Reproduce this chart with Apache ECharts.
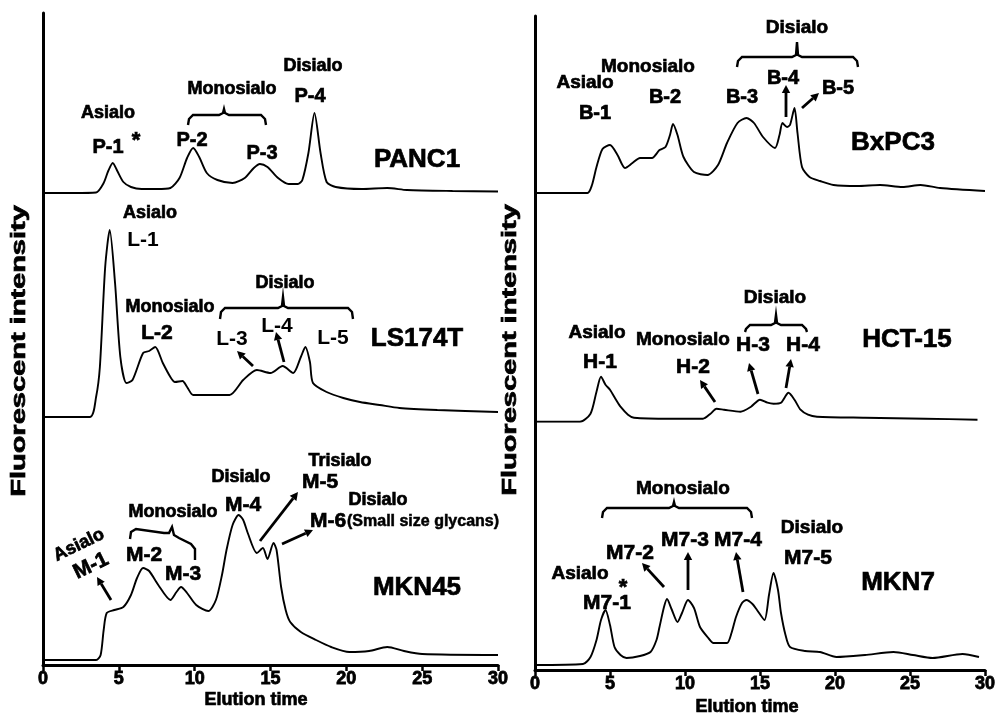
<!DOCTYPE html>
<html><head><meta charset="utf-8">
<script src="https://cdn.jsdelivr.net/npm/echarts@6/dist/echarts.min.js"></script>
<style>html,body{margin:0;padding:0;background:#fff}#c{width:999px;height:715px}</style>
</head><body><div id="c"></div>
<script>
// ---- data: [elution time, relative fluorescence above each trace's baseline] ----
const xTicks = [0, 5, 10, 15, 20, 25, 30];
const panc1 = [[0,0],[2,0],[3.5,0.5],[4.0,10],[4.3,22],[4.6,30],[4.9,22],[5.3,11],[5.8,6],[6.5,4],[7.5,4],[8.4,5],[9.0,15],[9.5,35],[9.9,45],[10.3,36],[10.8,20],[11.5,13],[12.5,10],[13.3,15],[13.9,25],[14.3,29],[14.8,26],[15.5,15],[16.2,9],[16.8,9],[17.1,13],[17.5,40],[17.9,80],[18.3,40],[18.7,11],[19.3,6],[21,4],[22.7,5],[24,3],[27,2],[30,1.5]];
const ls174t = [[0,0],[3.1,0],[3.5,20],[3.75,50],[4.1,150],[4.4,187],[4.75,134],[5.1,60],[5.5,34],[5.9,37],[6.6,64],[7.0,66],[7.4,70],[7.9,54],[8.4,40],[8.7,35],[9.2,36],[9.5,30],[9.9,22],[11,22],[12.3,22],[13.2,37],[14.1,47],[15.0,44],[15.8,51],[16.5,44],[17.0,60],[17.3,70],[17.6,55],[17.8,34],[18.7,25],[19.8,19],[20.9,15],[22.2,12],[23.5,9],[26,7],[30,5]];
const mkn45 = [[0,0],[3.5,0],[3.8,5],[4.0,30],[4.2,47],[4.7,50],[5.3,53],[5.8,65],[6.2,82],[6.6,92],[7.0,89],[7.6,75],[8.4,60],[8.8,68],[9.1,73],[9.5,67],[10.1,55],[10.9,49],[11.4,60],[11.8,85],[12.1,110],[12.5,135],[12.9,145],[13.2,140],[13.5,127],[14.1,107],[14.5,112],[14.8,101],[15.2,117],[15.4,110],[15.7,73],[16.0,50],[16.3,38],[17,28],[18,20],[19,13],[20.2,8],[21.5,9],[22.7,13],[23.8,9],[25,6],[30,5]];
const bxpc3 = [[0,0],[3.5,0],[3.8,8],[4.1,26],[4.5,44],[5.0,48],[5.5,38],[6.0,25],[6.5,30],[7.0,35],[7.8,35],[8.3,43],[8.7,46],[9.0,58],[9.2,69],[9.5,58],[9.9,36],[10.6,21],[11.5,18],[12.2,28],[12.8,50],[13.5,70],[14.1,75],[14.6,70],[15.2,56],[16.0,45],[16.3,58],[16.5,70],[16.8,66],[17.0,68],[17.3,85],[17.5,60],[17.8,26],[18.3,16],[19.0,12],[19.9,8],[21.5,7],[23,8],[24.5,6],[25.7,8],[27,5],[30,2]];
const hct15 = [[0,0],[3,0],[3.7,8],[4.1,30],[4.4,45],[4.7,37],[5.0,32],[5.4,22],[5.7,15],[6.2,7],[6.6,4],[9,3],[11.2,3],[11.7,8],[12.1,13],[12.6,12],[13.7,10],[14.4,15],[15.0,22],[15.5,19],[15.9,18],[16.4,19],[16.9,29],[17.3,22],[17.7,12],[18.2,7],[18.8,5],[22,4],[26,3],[29.5,2]];
const mkn7 = [[0,0],[3.2,1],[3.7,8],[4.1,25],[4.4,45],[4.7,55],[5.0,40],[5.3,18],[5.7,10],[6.1,7],[7.0,9],[7.7,13],[8.1,25],[8.3,38],[8.6,58],[8.8,66],[9.1,56],[9.5,43],[9.8,52],[10.2,65],[10.6,57],[11.0,38],[11.5,28],[11.9,22],[12.8,22],[13.1,32],[13.4,48],[13.8,62],[14.1,65],[14.5,61],[14.8,55],[15.3,45],[15.6,70],[15.9,92],[16.2,75],[16.4,52],[16.7,30],[17.0,18],[18,14],[19.0,13],[20.1,8],[22,10],[23.9,13],[25.2,10],[26.5,7],[28.5,11],[29.6,8]];
const cellLines = ['PANC1','LS174T','MKN45','BxPC3','HCT-15','MKN7'];
const traces = [panc1, ls174t, mkn45, bxpc3, hct15, mkn7];

// ---- layout ----
const FONT = '"Liberation Sans", Arial, sans-serif';
const panels = [{left:43, width:455, top:13, bottom:665}, {left:535, width:450, top:16, bottom:670}];
const baselines = [193, 417, 660, 193, 421.7, 665];
const TH = 190;

const grids = [], xAxes = [], yAxes = [], series = [];
panels.forEach((p, i) => {
  grids.push({left:p.left, top:p.top, width:p.width, height:p.bottom - p.top});
  xAxes.push({gridIndex:i, type:'value', min:0, max:30, interval:5,
    axisLine:{show:true, onZero:false, lineStyle:{color:'#000', width:3}},
    axisTick:{show:true, inside:false, length:6, lineStyle:{color:'#000', width:2.5}},
    axisLabel:{color:'#000', fontFamily:FONT, fontWeight:'bold', fontSize:18, margin:5,
      textBorderColor:'#000', textBorderWidth:0.8,
      formatter: v => xTicks.includes(v) ? String(v) : ''},
    splitLine:{show:false}});
  yAxes.push({gridIndex:i, type:'value', min:0, max:1,
    axisLine:{show:true, onZero:false, lineStyle:{color:'#000', width:3}},
    axisTick:{show:false}, axisLabel:{show:false}, splitLine:{show:false}});
});
traces.forEach((d, k) => {
  const p = panels[k < 3 ? 0 : 1];
  const gi = grids.length;
  grids.push({left:p.left, width:p.width, top:baselines[k] - TH, height:TH});
  xAxes.push({gridIndex:gi, type:'value', min:0, max:30, show:false});
  yAxes.push({gridIndex:gi, type:'value', min:0, max:TH, show:false});
  series.push({type:'line', name:cellLines[k], xAxisIndex:gi, yAxisIndex:gi, data:d,
    showSymbol:false, smooth:0.25, lineStyle:{color:'#000', width:1.9}, silent:true});
});

// ---- annotation helpers ----
const G = [];
function T(x, y, s, size, o) {
  o = o || {};
  const sw = o.sw !== undefined ? o.sw : 0.7;
  G.push({type:'text', x:x, y:y, rotation:o.rot || 0, scaleX:o.sx || 1, z:10,
    style:{text:s, fill:'#000', stroke: sw ? '#000' : null, lineWidth: sw,
      font:'bold ' + size + 'px ' + FONT,
      textAlign:o.align || 'center', textVerticalAlign:'middle', align:o.align || 'center', verticalAlign:'middle'}});
}
function A(x1, y1, x2, y2) {
  const dx = x2 - x1, dy = y2 - y1, L = Math.hypot(dx, dy), ux = dx / L, uy = dy / L;
  const hl = 8, hw = 4.2;
  const bx = x2 - ux * hl, by = y2 - uy * hl;
  G.push({type:'line', z:10, shape:{x1:x1, y1:y1, x2:bx, y2:by}, style:{stroke:'#000', lineWidth:2.8}});
  G.push({type:'polygon', z:10, shape:{points:[[x2, y2], [bx - uy * hw, by + ux * hw], [bx + uy * hw, by - ux * hw]]}, style:{fill:'#000'}});
}
function B(x1, x2, yt, ye, tx, ty) {
  G.push({type:'polyline', z:10, shape:{points:[[x1, ye], [x1 + 1, yt + 4], [x1 + 5, yt], [tx - 5, yt], [tx - 1, yt - 2], [tx, ty], [tx + 1, yt - 2], [tx + 5, yt], [x2 - 5, yt], [x2 - 1, yt + 4], [x2, ye]]},
    style:{stroke:'#000', lineWidth:2.4, fill:null}});
}

// left panel
T(108,113,'Asialo',18); T(108,147,'P-1',20); T(136,141,'*',22);
T(232,89,'Monosialo',18); B(188,266,115,125,224,109);
T(192,140,'P-2',20); T(262,153,'P-3',20);
T(313,66,'Disialo',18); T(310,96,'P-4',20);
T(417,160,'PANC1',26);

T(150,213,'Asialo',18); T(143,240,'L-1',21,{sw:0});
T(285,283,'Disialo',18); B(220,353,308,319,283,297);
T(170,307,'Monosialo',18); T(157,333,'L-2',21);
T(232,339,'L-3',21,{sw:0}); T(277,326,'L-4',21,{sw:0}); T(333,338,'L-5',21,{sw:0});
T(417,339,'LS174T',26);
A(253,366,237,351); A(284,362,276,332);

T(79,545,'Asialo',18,{rot:0.45}); T(91,566,'M-1',21,{rot:0.45});
A(111,600,97,577);
T(173,512,'Monosialo',18);
G.push({type:'polyline', z:10, shape:{points:[[130,539],[131,532],[136,529],[164,533],[169,533],[172,527],[174,535],[179,538],[191,544],[195,549],[195,560]]}, style:{stroke:'#000', lineWidth:2.4, fill:null}});
T(144,555,'M-2',21); T(183,574,'M-3',21);
T(241,477,'Disialo',18); T(243,505,'M-4',21);
T(340,461,'Trisialo',18); T(320,482,'M-5',21);
A(260,541,298,492);
T(378,500,'Disialo',18); T(328,521,'M-6',21);
T(347,522,'(Small size glycans)',16,{align:'left', sw:0.5});
A(282,544,313,530);
T(417,588,'MKN45',26);

// right panel
T(585,83,'Asialo',19); T(595,113,'B-1',20);
T(648,67,'Monosialo',19); T(665,97,'B-2',20);
T(742,97,'B-3',20);
T(797,28,'Disialo',19); B(737,858,57,67,797,42);
T(783,78,'B-4',20); A(786,117,786,85);
T(838,88,'B-5',20); A(802,108,819,93);
T(893,143,'BxPC3',26);

T(597,333,'Asialo',19); T(600,362,'H-1',21);
T(683,340,'Monosialo',19); T(693,367,'H-2',21); A(715,402,700,380);
T(753,345,'H-3',21); T(803,345,'H-4',21);
T(775,298,'Disialo',19); B(745,807,325,332,776,315);
A(758,394,749,363); A(786,388,791,359);
T(907,340,'HCT-15',26);

T(683,489,'Monosialo',19); B(602,752,508,518,674,502);
T(630,553,'M7-2',21); T(685,540,'M7-3',21); T(738,540,'M7-4',21);
T(812,528,'Disialo',19); T(808,558,'M7-5',21);
T(580,574,'Asialo',19); T(607,603,'M7-1',21); T(623,588,'*',22);
A(664,587,642,563); A(688,590,688,552); A(743,592,736,552);
T(898,583,'MKN7',26);

// axis titles
T(19,351,'Fluorescent intensity',20,{rot:Math.PI/2, sx:1.45});
T(510,350,'Fluorescent intensity',20,{rot:Math.PI/2, sx:1.45});
T(256,700,'Elution time',18);
T(747,707,'Elution time',18);

const chart = echarts.init(document.getElementById('c'), null, {renderer:'canvas'});
chart.setOption({
  backgroundColor:'#fff', animation:false,
  grid:grids, xAxis:xAxes, yAxis:yAxes, series:series, graphic:G
});
</script></body></html>
